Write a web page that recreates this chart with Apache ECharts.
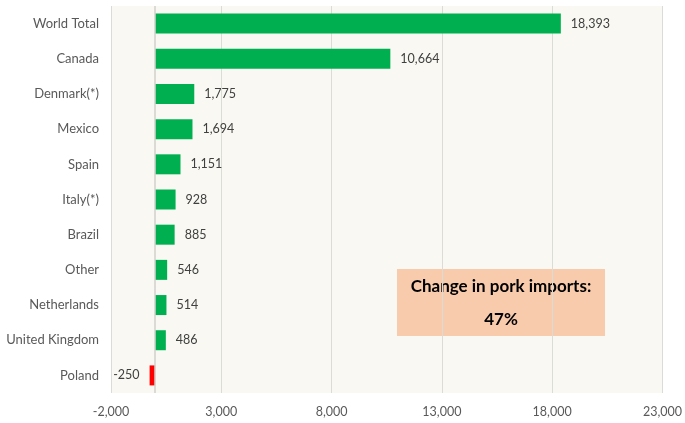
<!DOCTYPE html>
<html><head><meta charset="utf-8">
<script src="https://cdn.jsdelivr.net/npm/echarts@6/dist/echarts.min.js"></script>
<style>html,body{margin:0;padding:0;background:#fff}#c{width:685px;height:423px}</style>
</head><body><div id="c"></div>
<script>
const categories = ['World Total','Canada','Denmark(*)','Mexico','Spain','Italy(*)','Brazil','Other','Netherlands','United Kingdom','Poland'];
const values = [18393,10664,1775,1694,1151,928,885,546,514,486,-250];
const xTicks = [-2000,3000,8000,13000,18000,23000];
const annotationTitle = 'Change in pork imports:';
const annotationValue = '47%';

const FONT = 'Lato, "Open Sans", sans-serif';
const chart = echarts.init(document.getElementById('c'));
chart.setOption({
  animation:false,
  backgroundColor:'#ffffff',
  grid:{left:111,right:18,top:6,bottom:30,show:true,backgroundColor:'#f9f8f2',borderWidth:0,containLabel:false},
  xAxis:{type:'value',min:xTicks[0],max:xTicks[xTicks.length-1],interval:5000,
    axisLine:{show:false},axisTick:{show:false},
    splitLine:{show:true,lineStyle:{color:'#dcdcd6',width:1}},
    axisLabel:{color:'#595959',fontFamily:FONT,fontSize:12.5,margin:12,
      formatter:v=>v.toLocaleString('en-US')}},
  yAxis:{type:'category',data:categories,inverse:true,
    axisLine:{show:false},axisTick:{show:false},splitLine:{show:false},
    axisLabel:{color:'#595959',fontFamily:FONT,fontSize:13,margin:12}},
  series:[{type:'bar',barWidth:20,
    data:values.map(v=>({value:v,itemStyle:{color:v<0?'#ff0000':'#00b050'},
      label:{position:v<0?'left':'right'}})),
    label:{show:true,distance:10,color:'#404040',fontFamily:FONT,fontSize:12.5,
      formatter:p=>p.value.toLocaleString('en-US')},
    markLine:{silent:true,symbol:'none',label:{show:false},
      lineStyle:{color:'#d0d0ca',type:'solid',width:1.5},
      data:[{xAxis:0}]}
  }],
  graphic:[{type:'group',left:397,top:269,children:[
    {type:'rect',shape:{x:0,y:0,width:208,height:67},style:{fill:'#f8cbad'}},
    {type:'text',x:104,y:18,style:{text:annotationTitle,fill:'#000',font:'bold 17px '+FONT,textAlign:'center',textVerticalAlign:'middle'}},
    {type:'text',x:104,y:51,style:{text:annotationValue,fill:'#000',font:'bold 17px '+FONT,textAlign:'center',textVerticalAlign:'middle'}}
  ]}]
});
</script></body></html>
